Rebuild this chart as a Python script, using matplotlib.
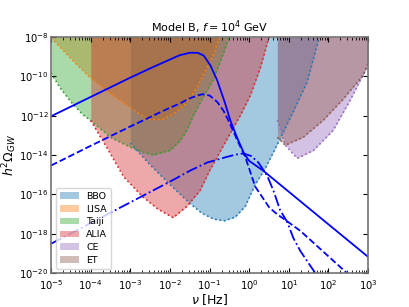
import numpy as np
import matplotlib
matplotlib.use("Agg")
import matplotlib.pyplot as plt

# detector sensitivity curves, log10(nu) / log10(h^2 Omega)
bbo_lf = [-3.0, -2.5, -2.0, -1.5, -1.2, -0.9, -0.63, -0.35, -0.1, 0.15, 0.4, 0.7, 1.1, 1.46, 1.77]
bbo_lo = [-13.4, -14.5, -15.5, -16.45, -16.95, -17.25, -17.34, -17.15, -16.6, -15.5, -14.7, -13.5, -11.85, -10.3, -8.0]

lisa_lf = [-5.0, -4.5, -4.0, -3.5, -3.0, -2.75, -2.5, -2.2, -1.9, -1.6, -1.3, -1.1, -0.9, -0.75]
lisa_lo = [-8.05, -9.1, -10.1, -10.9, -11.6, -11.95, -12.2, -12.2, -11.9, -11.4, -10.5, -9.7, -8.9, -8.0]

taiji_lf = [-5.0, -4.77, -4.5, -4.2, -4.0, -3.5, -3.0, -2.7, -2.42, -2.0, -1.75, -1.57, -1.41, -1.2, -0.91, -0.7, -0.5]
taiji_lo = [-9.84, -10.6, -11.3, -11.95, -12.25, -13.1, -13.6, -13.85, -14.0, -13.77, -13.3, -12.74, -12.0, -11.2, -10.2, -9.1, -8.0]

alia_lf = [-4.0, -3.6, -3.17, -2.7, -2.3, -1.92, -1.57, -1.24, -1.0, -0.7, -0.45, -0.2, 0.03, 0.28, 0.5]
alia_lo = [-12.25, -13.6, -15.1, -16.1, -16.75, -17.18, -16.6, -15.8, -14.8, -13.7, -12.8, -11.9, -10.96, -9.58, -8.0]

ce_lf = [0.71, 0.91, 1.21, 1.62, 2.12, 2.55, 3.0]
ce_lo = [-12.23, -13.5, -14.17, -13.77, -12.74, -11.21, -9.43]

et_lf = [0.71, 0.91, 1.36, 1.87, 2.35, 2.88, 3.0]
et_lo = [-13.1, -13.5, -13.1, -12.23, -11.21, -9.94, -9.3]

# GW spectra
solid_lf = [-5.0, -4.0, -3.0, -2.5, -2.0, -1.75, -1.5, -1.3, -1.15, -0.98, -0.81, -0.61, -0.48, -0.3, -0.13, 0.0, 0.35, 0.96, 2.0, 3.0]
solid_lo = [-12.03, -11.05, -10.07, -9.6, -9.15, -8.93, -8.81, -8.81, -8.95, -9.45, -10.2, -11.37, -12.23, -13.15, -13.92, -14.3, -14.79, -15.8, -17.52, -19.17]

dashed_lf = [-5.0, -4.0, -3.0, -2.25, -2.0, -1.75, -1.5, -1.3, -1.16, -1.0, -0.81, -0.65, -0.5, -0.3, -0.1, 0.15, 0.35, 0.5, 0.7, 0.9, 1.29, 2.47]
dashed_lo = [-14.53, -13.53, -12.55, -11.83, -11.6, -11.38, -11.12, -10.97, -10.91, -10.98, -11.3, -11.75, -12.35, -13.25, -14.1, -15.6, -16.2, -16.65, -17.0, -17.28, -17.85, -20.0]

dashdot_lf = [-5.0, -4.0, -3.0, -2.0, -1.5, -1.06, -0.61, -0.35, -0.15, 0.05, 0.23, 0.45, 0.61, 0.78, 0.96, 1.11, 1.29, 1.46, 1.67]
dashdot_lo = [-18.5, -17.45, -16.4, -15.35, -14.8, -14.38, -14.12, -13.98, -13.92, -14.05, -14.38, -15.04, -15.8, -16.8, -17.4, -18.2, -18.87, -19.38, -20.0]

detectors = [("BBO", bbo_lf, bbo_lo, "tab:blue"),
             ("LISA", lisa_lf, lisa_lo, "tab:orange"),
             ("Taiji", taiji_lf, taiji_lo, "tab:green"),
             ("ALIA", alia_lf, alia_lo, "tab:red"),
             ("CE", ce_lf, ce_lo, "tab:purple"),
             ("ET", et_lf, et_lo, "tab:brown")]

fig, ax = plt.subplots(figsize=(4.09, 3.07), dpi=100)

top = 1e-8
for name, lf, lo, c in detectors:
    f = 10 ** np.array(lf)
    om = 10 ** np.array(lo)
    ax.fill_between(f, om, top, color=c, alpha=0.4, lw=0, label=name)
    ax.plot(f, om, ls=":", color=c, lw=1.2)

ax.plot(10 ** np.array(solid_lf), 10 ** np.array(solid_lo), "b-", lw=1.3)
ax.plot(10 ** np.array(dashed_lf), 10 ** np.array(dashed_lo), "b--", lw=1.3)
ax.plot(10 ** np.array(dashdot_lf), 10 ** np.array(dashdot_lo), "b-.", lw=1.3)

ax.set_xscale("log")
ax.set_yscale("log")
ax.set_xlim(1e-5, 1e3)
ax.set_ylim(1e-20, 1e-8)
ax.set_xticks([10.0 ** k for k in range(-5, 4)])
ax.set_yticks([10.0 ** k for k in range(-20, -7, 2)])
ax.tick_params(which="both", direction="in", top=True, right=True, labelsize=7.2)
ax.tick_params(axis="x", pad=3.5)
ax.tick_params(axis="y", pad=2)
for s in ax.spines.values():
    s.set_color("0.45")
    s.set_linewidth(1.2)

ax.set_title(r"Model B, $f=10^4$ GeV", fontsize=8, pad=4)
ax.set_xlabel(r"$\nu$ [Hz]", fontsize=9, labelpad=0)
ax.set_ylabel(r"$h^2\Omega_{GW}$", fontsize=9, labelpad=0)
ax.legend(loc="lower left", fontsize=6.8, labelspacing=0.4)

plt.savefig("out.png", dpi=100)
